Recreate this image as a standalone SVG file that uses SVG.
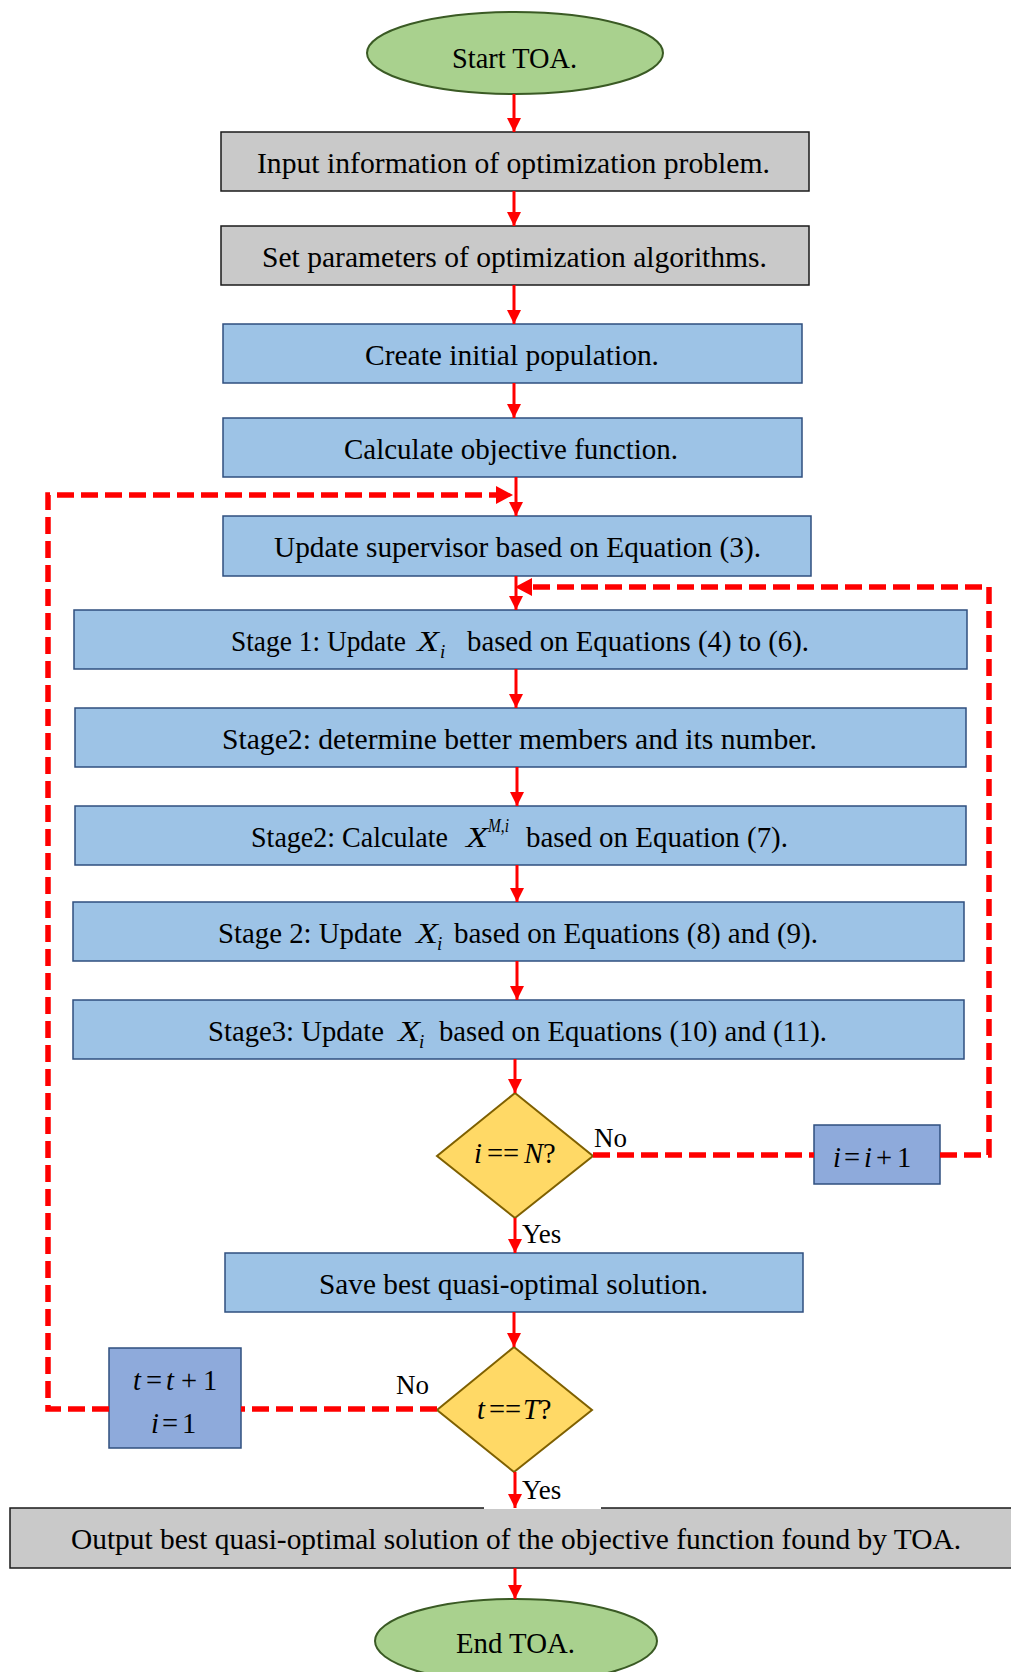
<svg xmlns="http://www.w3.org/2000/svg" width="1011" height="1672" viewBox="0 0 1011 1672">
<style>
text{font-family:"Liberation Serif","Times New Roman",serif;font-size:28.5px;fill:#000}
.m{font-style:italic}
.x{font-style:italic;font-size:30px}
.sub{font-style:italic;font-size:19px}
.lab{font-size:27px}
.ell{fill:#a9d18e;stroke:#3a5a24;stroke-width:2}
.gray{fill:#c9c9c9;stroke:#1a1a1a;stroke-width:1.5}
.blue{fill:#9dc3e6;stroke:#2f4f7f;stroke-width:1.5}
.blue2{fill:#8eaadb;stroke:#2f4f7f;stroke-width:1.5}
.dia{fill:#ffd966;stroke:#7f6000;stroke-width:2}
.arr{stroke:#ff0000;stroke-width:3;fill:none}
.dash{stroke:#ff0000;stroke-width:5.5;fill:none;stroke-dasharray:17 7}
.head{fill:#ff0000}
</style>
<defs>
<marker id="ah" markerUnits="userSpaceOnUse" markerWidth="14" markerHeight="16" refX="14" refY="7" orient="auto">
<path d="M0,0 L14,7 L0,14 Z" fill="#ff0000"/>
</marker>
</defs>

<g id="start"><ellipse class="ell" cx="515" cy="53" rx="148" ry="41"/><text x="452" y="68" textLength="125" lengthAdjust="spacingAndGlyphs">Start TOA.</text></g>
<g id="input"><rect class="gray" x="221" y="132" width="588" height="59"/><text x="257" y="172.5" textLength="513" lengthAdjust="spacingAndGlyphs">Input information of optimization problem.</text></g>
<g id="params"><rect class="gray" x="221" y="226" width="588" height="59"/><text x="262" y="266.5" textLength="505" lengthAdjust="spacingAndGlyphs">Set parameters of optimization algorithms.</text></g>
<g id="create"><rect class="blue" x="223" y="324" width="579" height="59"/><text x="365" y="364.5" textLength="294" lengthAdjust="spacingAndGlyphs">Create initial population.</text></g>
<g id="calc"><rect class="blue" x="223" y="418" width="579" height="59"/><text x="344" y="458.5" textLength="334" lengthAdjust="spacingAndGlyphs">Calculate objective function.</text></g>
<g id="supervisor"><rect class="blue" x="223" y="516" width="588" height="60"/><text x="274" y="557" textLength="487" lengthAdjust="spacingAndGlyphs">Update supervisor based on Equation (3).</text></g>
<g id="stage1"><rect class="blue" x="74" y="610" width="893" height="59"/>
<text x="231" y="651" textLength="175" lengthAdjust="spacingAndGlyphs">Stage 1: Update</text><text class="x" x="417" y="651" textLength="22" lengthAdjust="spacingAndGlyphs">X</text><text class="sub" x="440" y="658">i</text><text x="467" y="651" textLength="342" lengthAdjust="spacingAndGlyphs">based on Equations (4) to (6).</text></g>
<g id="stage2a"><rect class="blue" x="75" y="708" width="891" height="59"/><text x="222" y="748.5" textLength="595" lengthAdjust="spacingAndGlyphs">Stage2: determine better members and its number.</text></g>
<g id="stage2b"><rect class="blue" x="75" y="806" width="891" height="59"/>
<text x="251" y="847" textLength="197" lengthAdjust="spacingAndGlyphs">Stage2: Calculate</text><text class="x" x="466" y="847" textLength="22" lengthAdjust="spacingAndGlyphs">X</text><text class="sub" x="488" y="832" textLength="21" lengthAdjust="spacingAndGlyphs">M,i</text><text x="526" y="847" textLength="262" lengthAdjust="spacingAndGlyphs">based on Equation (7).</text></g>
<g id="stage2c"><rect class="blue" x="73" y="902" width="891" height="59"/>
<text x="218" y="942.5" textLength="184" lengthAdjust="spacingAndGlyphs">Stage 2: Update</text><text class="x" x="416" y="942.5" textLength="22" lengthAdjust="spacingAndGlyphs">X</text><text class="sub" x="437" y="949.5">i</text><text x="454" y="942.5" textLength="364" lengthAdjust="spacingAndGlyphs">based on Equations (8) and (9).</text></g>
<g id="stage3"><rect class="blue" x="73" y="1000" width="891" height="59"/>
<text x="208" y="1040.5" textLength="176" lengthAdjust="spacingAndGlyphs">Stage3: Update</text><text class="x" x="398" y="1040.5" textLength="22" lengthAdjust="spacingAndGlyphs">X</text><text class="sub" x="419" y="1047.5">i</text><text x="439" y="1040.5" textLength="388" lengthAdjust="spacingAndGlyphs">based on Equations (10) and (11).</text></g>
<g id="decisionN"><path class="dia" d="M515,1093 L593,1156 L515,1218 L437,1156 Z"/>
<text y="1163"><tspan class="m" x="474">i</tspan><tspan x="487">==</tspan><tspan class="m" x="524">N</tspan><tspan>?</tspan></text></g>
<g id="incI"><rect class="blue2" x="814" y="1125" width="126" height="59"/>
<text y="1167"><tspan class="m" x="833">i</tspan><tspan x="844">=</tspan><tspan class="m" x="864">i</tspan><tspan x="876">+</tspan><tspan x="897">1</tspan></text></g>
<g id="save"><rect class="blue" x="225" y="1253" width="578" height="59"/><text x="319" y="1293.5" textLength="389" lengthAdjust="spacingAndGlyphs">Save best quasi-optimal solution.</text></g>
<g id="decisionT"><path class="dia" d="M514,1347 L592,1410 L514,1472 L437,1410 Z"/>
<text y="1419"><tspan class="m" x="477">t</tspan><tspan x="489">==</tspan><tspan class="m" x="523">T</tspan><tspan>?</tspan></text></g>
<g id="incT"><rect class="blue2" x="109" y="1348" width="132" height="100"/>
<text y="1390"><tspan class="m" x="133">t</tspan><tspan x="146">=</tspan><tspan class="m" x="166">t</tspan><tspan x="181">+</tspan><tspan x="203">1</tspan></text>
<text y="1433"><tspan class="m" x="151">i</tspan><tspan x="162">=</tspan><tspan x="182">1</tspan></text></g>
<g id="output"><rect class="gray" x="10" y="1508" width="1010" height="60"/><rect x="484" y="1478" width="117" height="31" fill="#fff"/><text x="71" y="1549" textLength="890" lengthAdjust="spacingAndGlyphs">Output best quasi-optimal solution of the objective function found by TOA.</text></g>
<g id="end"><ellipse class="ell" cx="516" cy="1641" rx="141" ry="42"/><text x="456" y="1653" textLength="119" lengthAdjust="spacingAndGlyphs">End TOA.</text></g>

<g id="connectors">
<line class="arr" x1="514" y1="94" x2="514" y2="132" marker-end="url(#ah)"/>
<line class="arr" x1="514" y1="191" x2="514" y2="226" marker-end="url(#ah)"/>
<line class="arr" x1="514" y1="285" x2="514" y2="324" marker-end="url(#ah)"/>
<line class="arr" x1="514" y1="383" x2="514" y2="418" marker-end="url(#ah)"/>
<line class="arr" x1="516" y1="477" x2="516" y2="516" marker-end="url(#ah)"/>
<line class="arr" x1="516" y1="576" x2="516" y2="610" marker-end="url(#ah)"/>
<line class="arr" x1="516" y1="669" x2="516" y2="708" marker-end="url(#ah)"/>
<line class="arr" x1="517" y1="767" x2="517" y2="806" marker-end="url(#ah)"/>
<line class="arr" x1="517" y1="865" x2="517" y2="902" marker-end="url(#ah)"/>
<line class="arr" x1="517" y1="961" x2="517" y2="1000" marker-end="url(#ah)"/>
<line class="arr" x1="515" y1="1059" x2="515" y2="1093" marker-end="url(#ah)"/>
<line class="arr" x1="515" y1="1218" x2="515" y2="1253" marker-end="url(#ah)"/>
<line class="arr" x1="514" y1="1312" x2="514" y2="1347" marker-end="url(#ah)"/>
<line class="arr" x1="515" y1="1472" x2="515" y2="1508" marker-end="url(#ah)"/>
<line class="arr" x1="515" y1="1568" x2="515" y2="1599" marker-end="url(#ah)"/>
<path class="dash" d="M109,1409 L48,1409 L48,495 L497,495"/>
<path class="head" d="M496,486 L513,495 L496,504 Z"/>
<path class="dash" d="M437,1409 L241,1409"/>
<path class="dash" d="M593,1155 L814,1155"/>
<path class="dash" d="M940,1155 L989,1155 L989,587 L531,587"/>
<path class="head" d="M532,578 L515,587 L532,596 Z"/>
<text class="lab" x="594" y="1147">No</text>
<text class="lab" x="522" y="1243">Yes</text>
<text class="lab" x="396" y="1394">No</text>
<text class="lab" x="522" y="1499">Yes</text>
</g>
</svg>
